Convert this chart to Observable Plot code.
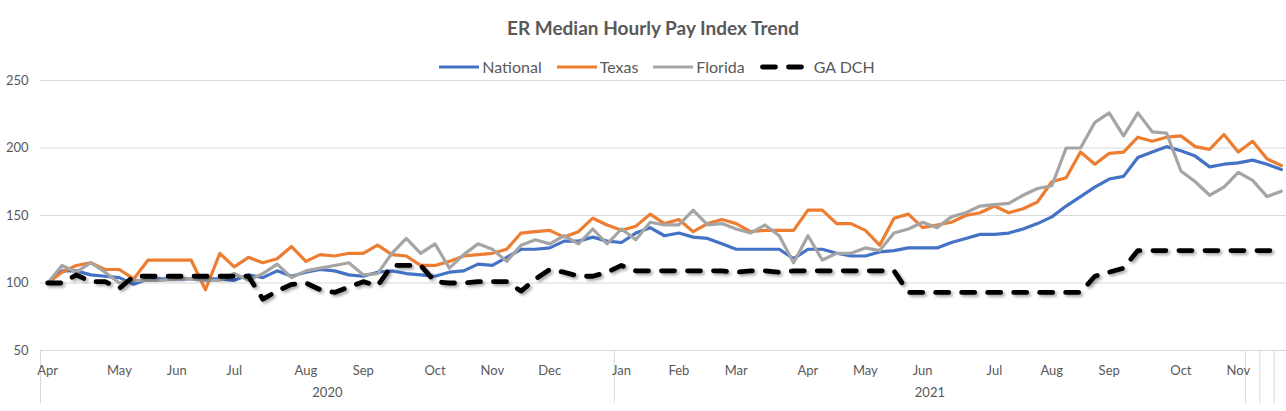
<!DOCTYPE html>
<html><head><meta charset="utf-8">
<script src="https://cdn.jsdelivr.net/npm/d3@7"></script>
<script src="https://cdn.jsdelivr.net/npm/@observablehq/plot@0.6"></script>
<style>
body{margin:0;background:#fff;font-family:Lato,"Open Sans",sans-serif;}
#wrap{width:1286px;}
#title{text-align:center;font-weight:bold;font-size:19px;color:#595959;line-height:22px;height:22px;padding-top:17px;padding-left:20px;}
#legend{display:flex;justify-content:center;align-items:center;gap:15px;margin-top:20px;height:16px;font-size:16px;color:#595959;padding-left:28px;}
.item{display:flex;align-items:center;line-height:16px;}
.item svg{margin-right:3px;overflow:visible;}
</style></head><body>
<div id="wrap"><div id="title">ER Median Hourly Pay Index Trend</div><div id="legend"></div><div id="chart"></div></div>
<script>
const firstWeek = "2020-04-01";
const seriesNames = ["National", "Texas", "Florida", "GA DCH"];
const seriesColors = ["#4472C4", "#ED7D31", "#A5A5A5", "#000000"];
const yTicks = [50, 100, 150, 200, 250];
const yearLabels = ["2020", "2021"];
const extraGroupStarts = ["2021-11-10", "2021-11-17", "2021-11-24"];

const national = [
100,109,109,106,105,104,99,103,103,103,
103,103,103,102,106,104,109,105,108,110,
109,106,105,108,109,107,106,105,108,109,
114,113,119,125,125,126,131,131,134,131,
130,137,141,135,137,134,133,129,125,125,
125,125,118,125,125,122,120,120,123,124,
126,126,126,130,133,136,136,137,140,144,
149,157,164,171,177,179,193,197,201,198,
194,186,188,189,191,188,184];
const texas = [
100,108,113,115,110,110,103,117,117,117,
117,95,122,112,119,115,118,127,116,121,
120,122,122,128,121,120,113,113,116,120,
121,122,125,137,138,139,134,138,148,143,
139,142,151,144,147,138,144,147,144,138,
139,139,139,154,154,144,144,139,128,148,
151,141,143,145,150,152,157,152,155,160,
175,178,197,188,196,197,208,205,208,209,
201,199,210,197,205,192,187];
const florida = [
100,113,108,115,108,100,102,102,102,103,
103,102,102,107,102,107,114,104,109,111,
113,115,106,107,122,133,122,129,111,121,
129,125,116,128,132,129,135,129,140,129,
140,132,145,143,143,154,143,144,140,137,
143,135,115,135,117,122,122,126,124,137,
140,145,141,149,152,157,158,159,165,170,
172,200,200,219,226,209,226,212,211,183,
175,165,171,182,176,164,168];
const gadch = [
100,100,106,101,101,96,105,105,105,105,
105,105,105,105,105,88,94,99,100,95,
93,97,101,98,113,113,113,101,100,100,
101,101,101,94,103,110,108,105,105,108,
113,109,109,109,109,109,109,109,108,109,
109,108,109,109,109,109,109,109,109,109,
93,93,93,93,93,93,93,93,93,93,
93,93,93,105,108,111,124,124,124,124,
124,124,124,124,124,124,124];

const allValues = [national, texas, florida, gadch];
const start = new Date(firstWeek + "T00:00:00Z");
const dates = national.map((_, i) => d3.utcDay.offset(start, 7 * i));
const halfBefore = d => d3.utcHour.offset(d, -84);
const halfAfter = d => d3.utcHour.offset(d, 84);

// first data point of each month -> tick
const monthTicks = dates.filter((d, i) => i === 0 || d.getUTCMonth() !== dates[i - 1].getUTCMonth());

// group boundaries (category groups)
const firstOfYear = y => dates.find(d => d.getUTCFullYear() === +y);
const extra = extraGroupStarts.map(s => new Date(s + "T00:00:00Z"));
const bounds = [halfBefore(dates[0]), halfBefore(firstOfYear("2021")), ...extra.map(halfBefore)];
const yearRows = yearLabels.map((label, k) => ({label, x: new Date((+bounds[k] + +bounds[k + 1]) / 2)}));

const lineMarks = allValues.map((vals, s) => {
  const data = vals.map((v, i) => ({date: dates[i], value: v}));
  const dashed = s === 3;
  return Plot.line(data, {
    x: "date", y: "value", stroke: seriesColors[s],
    strokeWidth: dashed ? 4.8 : 3.2,
    strokeDasharray: dashed ? "13,13" : null,
    strokeLinecap: "round",
    strokeLinejoin: "round"
  });
});

const chart = Plot.plot({
  width: 1286, height: 336,
  marginTop: 5, marginBottom: 61, marginLeft: 40, marginRight: 0,
  x: {type: "utc", domain: [halfBefore(dates[0]), halfAfter(dates[dates.length - 1])], range: [40, 1288]},
  y: {domain: [50, 250]},
  style: {fontFamily: "Lato, 'Open Sans', sans-serif", fontSize: "13px", color: "#595959", background: "white", overflow: "visible"},
  marks: [
    Plot.ruleY(yTicks.filter(t => t !== 50), {stroke: "#d9d9d9", strokeWidth: 1}),
    Plot.ruleY([50], {stroke: "#d9d9d9", strokeWidth: 1}),
    Plot.ruleX(bounds, {stroke: "#d9d9d9", strokeWidth: 1, insetTop: 270, insetBottom: -53}),
    Plot.axisY({ticks: yTicks, tickSize: 0, tickPadding: 12, label: null, fontSize: 13}),
    Plot.axisX({ticks: monthTicks, tickFormat: d3.utcFormat("%b"), tickSize: 0, tickPadding: 15, label: null, fontSize: 13}),
    Plot.text(yearRows, {x: "x", text: "label", frameAnchor: "bottom", dy: 46, fill: "#595959", fontSize: 13}),
    ...lineMarks
  ]
});
d3.select(chart).selectAll("g[stroke-dasharray]").style("filter", "drop-shadow(2px 2px 1.5px rgba(0,0,0,0.35))");
document.getElementById("chart").appendChild(chart);

// legend
const legend = document.getElementById("legend");
seriesNames.forEach((name, s) => {
  const item = document.createElement("div");
  item.className = "item";
  const dashed = s === 3;
  const w = dashed ? 46 : 40;
  item.innerHTML = `<svg width="${w}" height="10"><line x1="${dashed ? 2.5 : 0}" x2="${dashed ? w - 2.5 : w}" y1="5" y2="5" stroke="${seriesColors[s]}" stroke-width="${dashed ? 4.8 : 3.2}" ${dashed ? 'stroke-dasharray="13,13" stroke-linecap="round"' : ''}/></svg><span style="margin-left:${dashed ? 5 : 0}px">${name}</span>`;
  legend.appendChild(item);
});
</script>
</body></html>
